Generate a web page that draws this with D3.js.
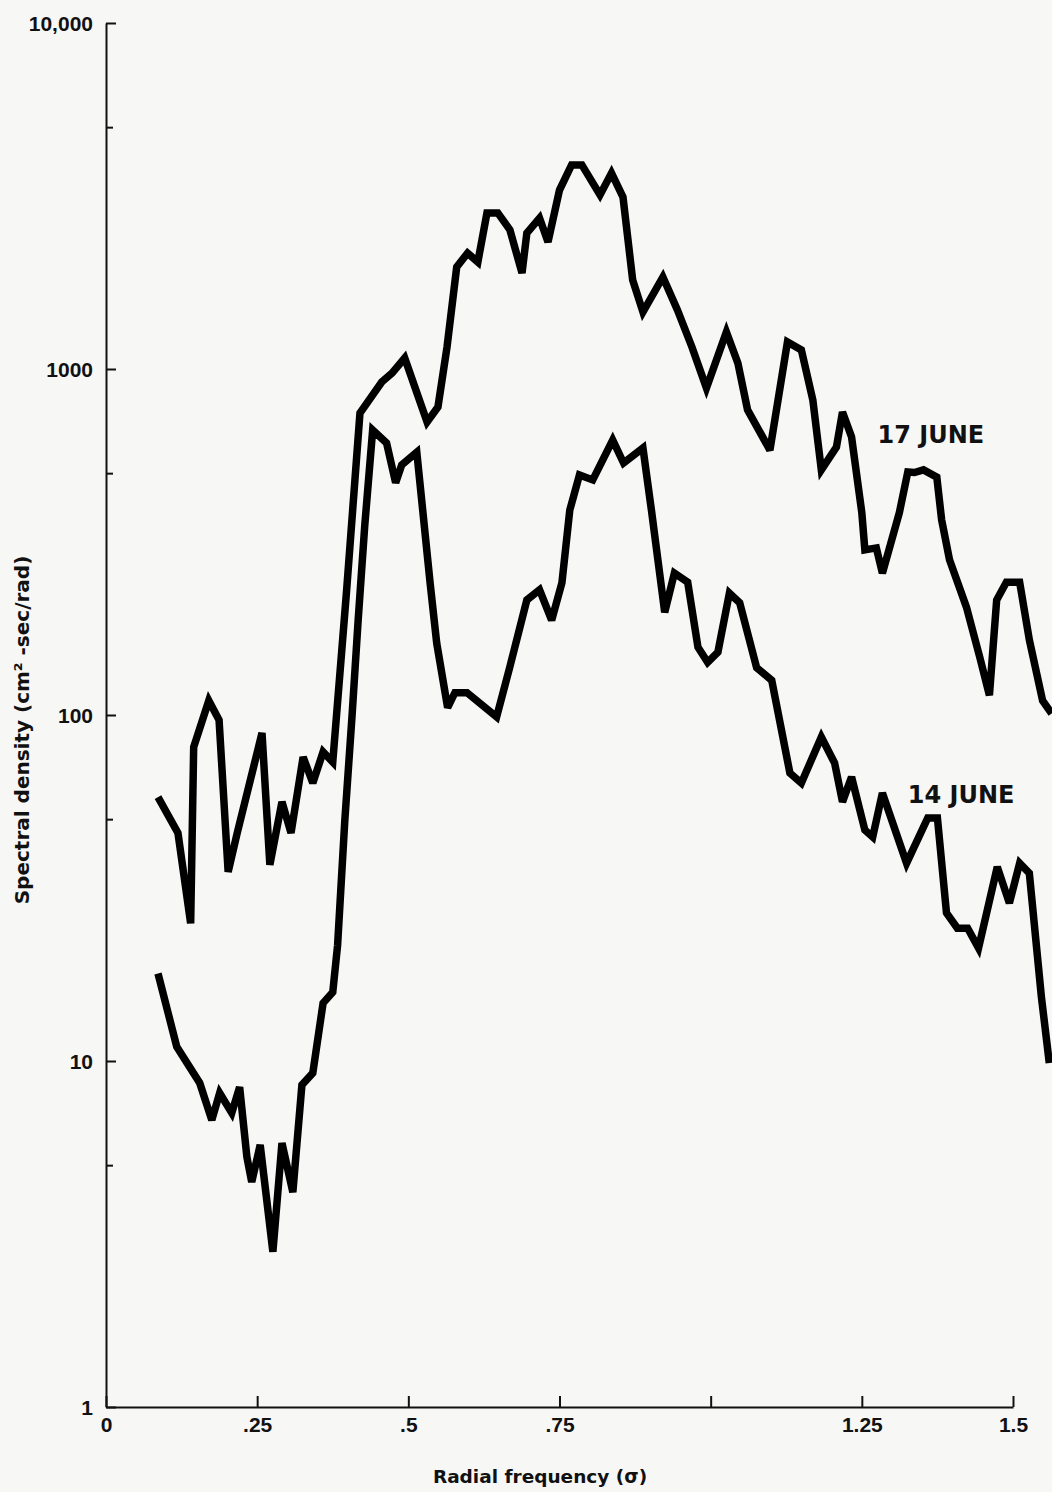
<!DOCTYPE html>
<html>
<head>
<meta charset="utf-8">
<script src="https://cdn.jsdelivr.net/npm/d3@7"></script>
<style>
  html, body { margin: 0; padding: 0; background: #f7f7f6; }
  svg { display: block; font-family: "DejaVu Sans", sans-serif; }
</style>
</head>
<body>
<svg id="chart" width="1052" height="1492"></svg>
<script>
// Spectral density chart, two survey days on a log scale

// 17 June series
var sigma17 = [0.086, 0.119, 0.140, 0.145, 0.170, 0.187, 0.202, 0.217, 0.258, 0.271,
  0.291, 0.306, 0.326, 0.342, 0.359, 0.375, 0.398, 0.420, 0.456, 0.473,
  0.494, 0.531, 0.549, 0.564, 0.580, 0.598, 0.615, 0.630, 0.648, 0.668,
  0.688, 0.696, 0.717, 0.731, 0.750, 0.770, 0.787, 0.817, 0.836, 0.855,
  0.871, 0.888, 0.921, 0.945, 0.969, 0.993, 1.026, 1.045, 1.061, 1.098,
  1.127, 1.150, 1.169, 1.183, 1.208, 1.218, 1.233, 1.250, 1.255, 1.274,
  1.284, 1.312, 1.326, 1.337, 1.352, 1.374, 1.382, 1.395, 1.423, 1.445,
  1.461, 1.473, 1.489, 1.511, 1.527, 1.549, 1.564];
var density17 = [57.9, 45.6, 25.0, 80.8, 110, 96.7, 35.2, 45.6, 88.7, 36.9,
  56.1, 45.6, 75.6, 63.6, 78.2, 73.1, 230, 746, 917, 973,
  1076, 703, 777, 1158, 1972, 2163, 2038, 2825, 2825, 2523,
  1894, 2472, 2730, 2328, 3290, 3890, 3890, 3185, 3684, 3141,
  1808, 1461, 1845, 1482, 1158, 881, 1279, 1040, 762, 583,
  1197, 1135, 813, 511, 595, 751, 636, 384, 300, 304,
  257, 384, 504, 502, 511, 487, 366, 281, 205, 147,
  114, 215, 242, 242, 165, 110, 101];

// 14 June series
var sigma14 = [0.086, 0.117, 0.155, 0.175, 0.188, 0.208, 0.221, 0.233, 0.241, 0.255,
  0.276, 0.291, 0.309, 0.324, 0.342, 0.359, 0.375, 0.383, 0.395, 0.407,
  0.417, 0.428, 0.441, 0.464, 0.479, 0.489, 0.514, 0.536, 0.547, 0.565,
  0.577, 0.597, 0.646, 0.668, 0.696, 0.717, 0.737, 0.754, 0.767, 0.783,
  0.805, 0.838, 0.856, 0.888, 0.902, 0.924, 0.940, 0.962, 0.979, 0.995,
  1.012, 1.031, 1.048, 1.076, 1.101, 1.131, 1.150, 1.183, 1.205, 1.218,
  1.233, 1.255, 1.268, 1.284, 1.324, 1.359, 1.375, 1.390, 1.408, 1.425,
  1.443, 1.474, 1.494, 1.511, 1.527, 1.547, 1.560];
var density14 = [17.9, 11.0, 8.64, 6.75, 8.08, 7.08, 8.41, 5.28, 4.47, 5.72,
  2.81, 5.79, 4.18, 8.53, 9.23, 14.7, 15.8, 21.6, 49.7, 100,
  188, 354, 666, 611, 469, 528, 575, 241, 161, 105,
  116, 116, 98.7, 138, 215, 230, 188, 241, 391, 494,
  478, 623, 535, 591, 391, 198, 257, 242, 157, 142,
  152, 225, 211, 137, 126, 68.0, 63.6, 86.4, 72.6, 56.1,
  66.2, 46.5, 44.4, 59.5, 37.3, 50.4, 50.4, 26.8, 24.2, 24.2,
  21.2, 36.4, 28.6, 37.3, 34.9, 15.3, 9.87];

// axes
var yMajorTicks = [1, 10, 100, 1000, 10000];
var yMajorLabels = ["1", "10", "100", "1000", "10,000"];
var yMinorTicks = [5, 50, 500, 5000];
var xTicks = [0, 0.25, 0.5, 0.75, 1, 1.25, 1.5];
var xTickLabels = ["0", ".25", ".5", ".75", "", "1.25", "1.5"];

var seriesLabels = [
  { text: "17 JUNE", sigma: 1.276, value: 611 },
  { text: "14 JUNE", sigma: 1.326, value: 55.7 }
];

var svg = d3.select("#chart");

var x = d3.scaleLinear().domain([0, 1.5]).range([106, 1013]);
var y = d3.scaleLog().domain([1, 10000]).range([1407, 23]);

// y axis, ticks point into the plot
var yAxis = d3.axisLeft(y)
  .tickValues(yMajorTicks)
  .tickFormat(function(d, i) { return yMajorLabels[i]; })
  .tickSizeInner(-10)
  .tickSizeOuter(0)
  .tickPadding(13);

var gy = svg.append("g")
  .attr("transform", "translate(106,0)")
  .call(yAxis);

svg.append("g")
  .attr("class", "minor")
  .attr("transform", "translate(106,0)")
  .call(d3.axisLeft(y).tickValues(yMinorTicks).tickFormat("").tickSizeInner(-7).tickSizeOuter(0))
  .select(".domain").remove();

var xAxis = d3.axisBottom(x)
  .tickValues(xTicks)
  .tickFormat(function(d, i) { return xTickLabels[i]; })
  .tickSizeInner(-11)
  .tickSizeOuter(0)
  .tickPadding(10);

var gx = svg.append("g")
  .attr("transform", "translate(0,1407)")
  .call(xAxis);

svg.selectAll(".domain, .tick line")
  .attr("stroke", "#111")
  .attr("stroke-width", 2);

svg.selectAll(".tick text")
  .attr("fill", "#111")
  .style("font-size", "21px")
  .style("font-weight", "bold");

gy.selectAll(".tick text").attr("dy", "0.36em");

// axis titles
svg.append("text")
  .attr("x", 540)
  .attr("y", 1483)
  .attr("text-anchor", "middle")
  .style("font-size", "18.5px")
  .style("font-weight", "bold")
  .attr("fill", "#111")
  .text("Radial frequency (σ)");

svg.append("text")
  .attr("transform", "translate(29,730) rotate(-90)")
  .attr("text-anchor", "middle")
  .style("font-size", "20px")
  .style("font-weight", "bold")
  .attr("fill", "#111")
  .text("Spectral density (cm² -sec/rad)");

// the two curves
var line = d3.line()
  .x(function(d) { return x(d[0]); })
  .y(function(d) { return y(d[1]); });

var curves = [d3.zip(sigma17, density17), d3.zip(sigma14, density14)];

svg.selectAll("path.curve")
  .data(curves)
  .enter()
  .append("path")
  .attr("class", "curve")
  .attr("d", line)
  .attr("fill", "none")
  .attr("stroke", "#000")
  .attr("stroke-width", 7.5)
  .attr("stroke-linejoin", "miter")
  .attr("stroke-miterlimit", 3);

svg.selectAll("text.series")
  .data(seriesLabels)
  .enter()
  .append("text")
  .attr("class", "series")
  .attr("x", function(d) { return x(d.sigma); })
  .attr("y", function(d) { return y(d.value); })
  .style("font-size", "24px")
  .style("font-weight", "bold")
  .attr("fill", "#111")
  .text(function(d) { return d.text; });
</script>
</body>
</html>
